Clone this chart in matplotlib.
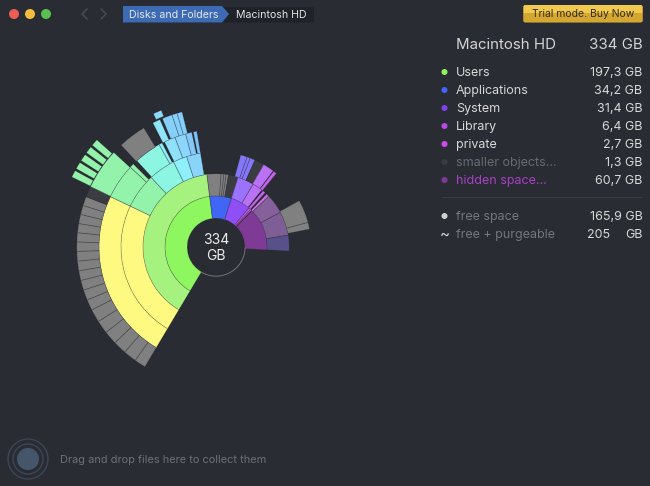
import numpy as np
import matplotlib
matplotlib.use('Agg')
import matplotlib.pyplot as plt
from matplotlib.patches import Wedge, Circle, Polygon, FancyBboxPatch

plt.rcParams['font.family'] = ['Inter', 'DejaVu Sans']

# Legend on the right
names = ['Users', 'Applications', 'System', 'Library', 'private', 'smaller objects...', 'hidden space...']
sizes = ['197,3 GB', '34,2 GB', '31,4 GB', '6,4 GB', '2,7 GB', '1,3 GB', '60,7 GB']
dot_colors = ['#8ef65f', '#3f66f5', '#8040f0', '#b94ae8', '#d04bf0', '#3a3c42', '#7f3a96']
name_colors = ['#d8d8d8'] * 5 + ['#686a70', '#a93fc4']

GRAY = '#808080'
DARK = '#3a3c42'
YELLOW = '#fdf981'
MINT = '#93f3ab'
AQUA = '#8df6e2'
PINK = '#b971f6'

# Sunburst rings: sizes in GB going clockwise, None colour = empty gap
ring0_sizes = [197.3, 34.2, 31.4, 3.5, 2.5, 0.8, 66.5]
ring0_colors = ['#8ef65f', '#3f66f5', '#8e4ff7', '#c455ee', '#d35cf2', DARK, '#7f3a96']

ring1_sizes = [197.3, 15.4, 3.0, 2.5, 2.8, 10.5, 18.2, 11.1, 2.1, 2.6, 2.8, 2.8, 21.7, 26.4, 17.1]
ring1_colors = ['#a5f27e', GRAY, GRAY, GRAY, GRAY, DARK, '#9a72fb', PINK, None, '#c962f0', None,
                '#d070f4', '#85609a', '#7d5e97', '#57508a']

ring2_sizes = [117.6, 29.9, 22.9, 11.8, 11.8, 34.3, 5.3, 2.8, 4.4, 8.1, 9.3, 1.1, 2.4, 30.3, 19.4, 5.6]
ring2_colors = [YELLOW, MINT, AQUA, '#8df0fb', '#88d4fb', None, '#8577fb', '#8577fb', '#8577fb', DARK,
                PINK, None, '#c962f0', None, GRAY, GRAY]

ring3_sizes = [117.6, 24.3, 2.8, 3.6, 18.6, 2.1, 2.1, 7.6, 7.6, 4.2, 1.4, 2.1]
ring3_colors = [YELLOW, MINT, MINT, None, AQUA, '#8df0fb', None, '#8fe0fb', '#8cd6fb', '#85c8fa', None, '#7ec4fa']

ring4_sizes = [6.5, 7.6, 7.8, 7.8, 7.6, 7.6, 6.3, 6.0, 5.7, 5.6, 5.6, 5.6, 5.4, 5.3, 5.3, 5.3, 5.3, 5.3,
               6.3, 23.6, 6.2, 16.0, 6.2, 4.2, 1.8, 5.7, 3.1, 2.8]
ring4_colors = [GRAY] * 18 + [DARK, MINT, None, GRAY, None, '#8fe6fb', None, '#85d0fa', '#85d0fa', '#85d0fa']

ring5_sizes = [118.3, 3.3, 1.4, 3.3, 1.4, 3.3, 1.4, 3.3, 1.4, 3.3]
ring5_colors = [None, MINT, None, MINT, None, MINT, None, MINT, None, MINT]

stub_sizes = [172.4, 4.4]
stub_colors = [None, '#8fd8fb']

DISK_GB = 500  # used + free, one full turn
START_ANGLE = -149.2  # clockwise from 12 o'clock
CX, CY = 216, 247
LINE = (0.16, 0.17, 0.2, 0.5)

BG = '#2a2c34'

fig = plt.figure(figsize=(6.5, 4.86), dpi=100, facecolor=BG)
ax = fig.add_axes([0, 0, 1, 1])
ax.set_facecolor(BG)


def draw_ring(ring_sizes, ring_colors, r_in, r_out, inner_line=True):
    angle = START_ANGLE
    prev = None
    for size, color in zip(ring_sizes, ring_colors):
        sweep = size * 360 / DISK_GB
        if color is not None:
            # y axis is flipped so theta runs clockwise on screen
            ax.add_patch(Wedge((CX, CY), r_out, angle - 90, angle + sweep - 90, width=r_out - r_in,
                               facecolor=color, edgecolor=color, linewidth=0.15))
            if inner_line:
                ax.add_patch(Wedge((CX, CY), r_in + 0.3, angle - 90, angle + sweep - 90, width=0.6,
                                   facecolor=LINE, edgecolor='none', zorder=1.5))
            if prev is not None:
                t = np.deg2rad(angle - 90)
                ax.plot([CX + r_in * np.cos(t), CX + r_out * np.cos(t)],
                        [CY + r_in * np.sin(t), CY + r_out * np.sin(t)],
                        color=LINE, lw=0.6, zorder=1.5, solid_capstyle='butt')
        prev = color
        angle += sweep


draw_ring(ring0_sizes, ring0_colors, 29, 51, inner_line=False)
draw_ring(ring1_sizes, ring1_colors, 51, 73)
draw_ring(ring2_sizes, ring2_colors, 73, 95)
draw_ring(ring3_sizes, ring3_colors, 95, 117)
draw_ring(ring4_sizes, ring4_colors, 117, 139)
draw_ring(ring5_sizes, ring5_colors, 140, 160, inner_line=False)
draw_ring(stub_sizes, stub_colors, 141, 147, inner_line=False)

# thin arc round the hole marks the free space
ax.add_patch(Wedge((CX, CY), 29.6, 1.3, 120.8, width=0.9, facecolor='#77797e', edgecolor='none'))
ax.text(CX, 240, '334', color='#ececec', fontsize=10, ha='center', va='center')
ax.text(CX, 256, 'GB', color='#ececec', fontsize=10, ha='center', va='center')

# Title bar
for x, c in zip([14, 30, 46], ['#ec5f57', '#f5bd3f', '#5ac04f']):
    ax.add_patch(Circle((x, 14), 5, facecolor=c, edgecolor='none'))
ax.plot([87, 82, 87], [9, 14, 19], color='#4a4d55', lw=1)
ax.plot([101, 106, 101], [9, 14, 19], color='#4a4d55', lw=1)

ax.add_patch(FancyBboxPatch((124, 7), 190, 15.5, boxstyle='round,pad=0,rounding_size=2',
                            facecolor='#20222a', edgecolor='none'))
ax.add_patch(Polygon([(123, 6), (222, 6), (229, 14), (222, 22.5), (123, 22.5)], facecolor='#3d6bb3', edgecolor='none'))
ax.text(129, 14.6, 'Disks and Folders', color='#e4e9f2', fontsize=7.6, va='center')
ax.text(236, 14.6, 'Macintosh HD', color='#e4e4e4', fontsize=7.6, va='center')

# Trial button
button = FancyBboxPatch((523.5, 5), 119, 17.5, boxstyle='round,pad=0,rounding_size=2',
                        facecolor='#e0b53a', edgecolor='none')
ax.add_patch(button)
grad = np.array([[0.0], [1.0]])
img = ax.imshow(grad, extent=[523, 643, 22.5, 5], aspect='auto', zorder=2,
                cmap=matplotlib.colors.LinearSegmentedColormap.from_list('gold', ['#f0c94e', '#d4a72e']))
img.set_clip_path(button)
ax.text(583, 14.3, 'Trial mode. Buy Now', color='#33291a', fontsize=7.5, ha='center', va='center', zorder=3)

# Legend
ax.text(456, 45, 'Macintosh HD', color='#d4d4d4', fontsize=10.8, va='center')
ax.text(642.5, 45, '334 GB', color='#d4d4d4', fontsize=10.8, ha='right', va='center')

for i in range(len(names)):
    y = 72 + i * 18
    ax.add_patch(Circle((444.5, y), 3, facecolor=dot_colors[i], edgecolor='none'))
    ax.text(456, y + 1, names[i], color=name_colors[i], fontsize=9, va='center')
    ax.text(642.5, y + 1, sizes[i], color='#d8d8d8', fontsize=9, ha='right', va='center')

ax.plot([442, 642], [196.5, 196.5], color='#3b3d45', lw=0.8)

ax.add_patch(Circle((444.5, 216), 3, facecolor='#d2d2d2', edgecolor='none'))
ax.text(456, 217, 'free space', color='#74767b', fontsize=9, va='center')
ax.text(642.5, 217, '165,9 GB', color='#d8d8d8', fontsize=9, ha='right', va='center')
ax.text(444.5, 234, '~', color='#d2d2d2', fontsize=11, ha='center', va='center')
ax.text(456, 235, 'free + purgeable', color='#74767b', fontsize=9, va='center')
ax.text(610.5, 235, '205', color='#d8d8d8', fontsize=9, ha='right', va='center')
ax.text(642.5, 235, 'GB', color='#d8d8d8', fontsize=9, ha='right', va='center')

# Collector icon, bottom left
ax.add_patch(Circle((28, 459), 20, facecolor='none', edgecolor='#3c4654', lw=1))
ax.add_patch(Circle((28, 459), 15, facecolor='none', edgecolor='#3c4654', lw=1))
ax.add_patch(Circle((28, 459), 11, facecolor='#46566a', edgecolor='none'))
ax.text(60, 460, 'Drag and drop files here to collect them', color='#6c7078', fontsize=7.9, va='center')

ax.set_xlim(0, 650)
ax.set_ylim(486, 0)
ax.axis('off')

fig.savefig('out.png', dpi=100, facecolor=BG)
